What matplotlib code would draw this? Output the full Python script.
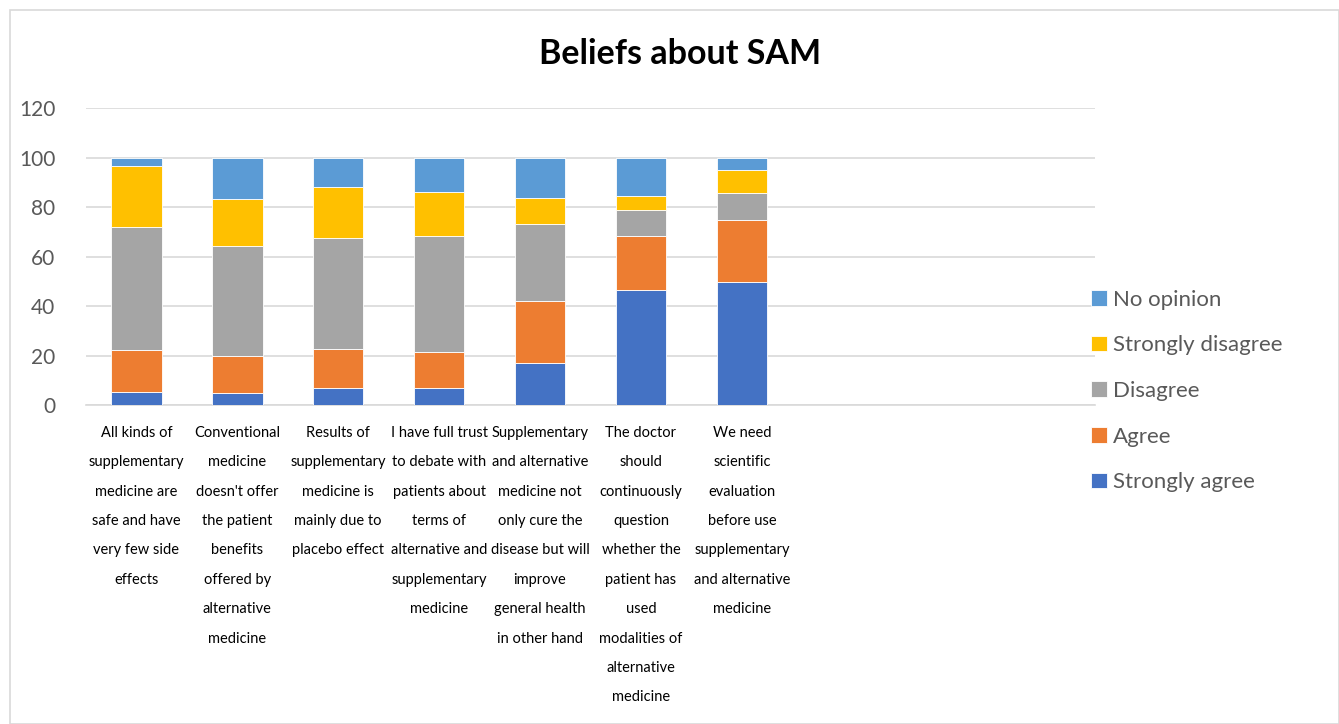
import numpy as np
import matplotlib
matplotlib.use("Agg")
import matplotlib.pyplot as plt
from matplotlib.patches import Rectangle

plt.rcParams["font.family"] = ["Lato", "DejaVu Sans"]

# statements (line breaks as in the original chart)
categories = [
    "All kinds of\nsupplementary\nmedicine are\nsafe and have\nvery few side\neffects",
    "Conventional\nmedicine\ndoesn't offer\nthe patient\nbenefits\noffered by\nalternative\nmedicine",
    "Results of\nsupplementary\nmedicine is\nmainly due to\nplacebo effect",
    "I have full trust\nto debate with\npatients about\nterms of\nalternative and\nsupplementary\nmedicine",
    "Supplementary\nand alternative\nmedicine not\nonly cure the\ndisease but will\nimprove\ngeneral health\nin other hand",
    "The doctor\nshould\ncontinuously\nquestion\nwhether the\npatient has\nused\nmodalities of\nalternative\nmedicine",
    "We need\nscientific\nevaluation\nbefore use\nsupplementary\nand alternative\nmedicine",
]

strongly_agree = [5.4, 5.0, 7.0, 7.0, 16.9, 46.5, 49.6]
agree = [16.8, 14.9, 15.6, 14.4, 25.2, 21.8, 25.1]
disagree = [49.7, 44.5, 44.9, 46.9, 31.0, 10.5, 10.8]
strongly_disagree = [24.6, 18.7, 20.4, 17.9, 10.4, 5.6, 9.4]
no_opinion = [3.5, 16.9, 12.1, 13.8, 16.5, 15.6, 5.1]

series = [
    ("Strongly agree", strongly_agree, "#4472C4"),
    ("Agree", agree, "#ED7D31"),
    ("Disagree", disagree, "#A5A5A5"),
    ("Strongly disagree", strongly_disagree, "#FFC000"),
    ("No opinion", no_opinion, "#5B9BD5"),
]

fig = plt.figure(figsize=(13.39, 7.24), dpi=100)
ax = fig.add_axes([0.0642, 0.4406, 0.7536, 0.4102])

x = np.arange(len(categories))
bottom = np.zeros(len(categories))
handles = []
for name, vals, color in series:
    b = ax.bar(x, vals, width=0.5, bottom=bottom, color=color,
               edgecolor="white", linewidth=0.6, label=name, zorder=3)
    handles.append(b)
    bottom += np.array(vals)

ax.set_xlim(-0.5, 9.5)
ax.set_ylim(0, 120)
ax.set_yticks(range(0, 121, 20))
ax.yaxis.grid(True, color="#D9D9D9", linewidth=1.2, zorder=0)
ax.set_axisbelow(True)
for s in ["top", "right", "left"]:
    ax.spines[s].set_visible(False)
ax.spines["bottom"].set_color("#D9D9D9")
ax.spines["bottom"].set_linewidth(1.2)
ax.tick_params(length=0)
ax.tick_params(axis="y", labelsize=15, labelcolor="#595959", pad=22)
ax.set_xticks(x)
ax.set_xticklabels(categories, fontsize=10.5, color="black",
                   linespacing=2.4, va="top")
ax.tick_params(axis="x", pad=15)

fig.text(0.508, 0.925, "Beliefs about SAM", ha="center", va="center",
         fontsize=24.5, fontweight="bold", color="black")

fig.legend(handles[::-1], [s[0] for s in series][::-1],
           loc="center left", bbox_to_anchor=(0.8, 0.46),
           frameon=False, fontsize=16, labelcolor="#595959",
           handlelength=0.7, handleheight=0.7, handletextpad=0.3,
           labelspacing=1.15)

# chart border
fig.patches.append(Rectangle((10 / 1339, 0), 1 - 10 / 1339, 1 - 10 / 724,
                             transform=fig.transFigure, fill=False,
                             edgecolor="#D9D9D9", linewidth=1.2))

fig.savefig("out.png", dpi=100)
